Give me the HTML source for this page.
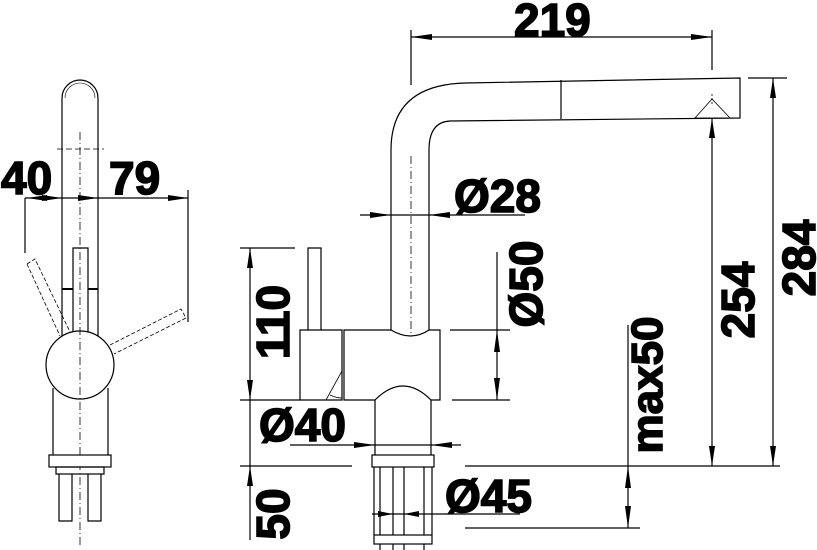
<!DOCTYPE html>
<html><head><meta charset="utf-8"><style>
html,body{margin:0;padding:0;background:#fff;}
svg{display:block}
text{font-family:"Liberation Sans",sans-serif;font-weight:bold;fill:#000;stroke:#000;stroke-width:1.6}
</style></head><body>
<svg width="817" height="550" viewBox="0 0 817 550" xmlns="http://www.w3.org/2000/svg">
<g fill="none" stroke="#000" stroke-width="1.2">
<path d="M62 385 V98 A18 18 0 0 1 98 98 V340"/>
<path d="M65 98 A15 15 0 0 1 95 98" stroke-width="0.6"/>
<line x1="25" y1="198" x2="188" y2="198"/>
<line x1="25" y1="198" x2="25" y2="253"/>
<line x1="188" y1="190" x2="188" y2="322"/>
<path d="M73 332 V248 H88 V332"/>
<line x1="62" y1="289" x2="73" y2="289" stroke-width="2"/>
<line x1="88" y1="289" x2="98" y2="289" stroke-width="2"/>
<path d="M27 264 L35 259 L71 334 M27 264 L60 336" stroke-dasharray="4 2" stroke-width="0.8"/>
<path d="M110 345 L181 309 L186 318 L114 354" stroke-dasharray="4 2" stroke-width="0.8"/>
<path d="M53 388 V455 M108 388 V455"/>
<circle cx="80" cy="365" r="34" fill="#fff"/>
<line x1="80" y1="132" x2="80" y2="545" stroke-dasharray="8 3 1 3" stroke-width="0.8"/>
<line x1="57" y1="149" x2="104" y2="149" stroke-dasharray="6 3" stroke-width="0.8"/>
<rect x="49" y="455" width="62" height="12" fill="#fff"/>
<rect x="56" y="467" width="48" height="7"/>
<path d="M59 474 V521 H72 V474 M88 474 V521 H101 V474"/>

<line x1="411" y1="30" x2="411" y2="85"/>
<path d="M391 330 V150 Q391 85 465 83 L740 78 V118 L450 121 Q429 122 429 150 V330"/>
<line x1="561" y1="80" x2="561" y2="119"/>
<path d="M695 118 L712 99 L730 118 Z" stroke-width="0.8"/>
<line x1="712" y1="94" x2="712" y2="104" stroke-dasharray="2 2" stroke-width="0.8"/>
<line x1="411" y1="156" x2="411" y2="335" stroke-dasharray="8 3 1 3" stroke-width="0.8"/>
<line x1="360" y1="215" x2="525" y2="215"/>
<path d="M308 330 V248 H321 V330"/>
<path d="M300 330 H342 V400 H300 Z"/>
<path d="M342 371 L326 400 M330 395 Q336 398 342 398" stroke-width="0.8"/>
<path d="M344 330 H391 Q411 342 429 330 H440 V400 H431 Q403 372 375 400 H344 Z"/>
<path d="M375 400 V455 M431 400 V455"/>
<rect x="372" y="455" width="62" height="12"/>
<path d="M374 467 V535 M380 467 V535 M393 467 V535 M404 467 V535 M424 467 V535 M432 467 V535"/>
<rect x="374" y="535" width="58" height="9"/>
<path d="M380 544 V550 M393 544 V550 M404 544 V550 M424 544 V550"/>
<line x1="250" y1="248" x2="250" y2="540"/>
<line x1="240" y1="248" x2="295" y2="248"/>
<line x1="240" y1="400" x2="300" y2="400"/>
<line x1="240" y1="466" x2="352" y2="466"/>
<line x1="290" y1="445" x2="461" y2="445"/>
<line x1="497" y1="252" x2="497" y2="400"/>
<line x1="450" y1="330" x2="510" y2="330"/>
<line x1="452" y1="400" x2="510" y2="400"/>
<line x1="372" y1="514" x2="520" y2="514"/>
<line x1="465" y1="466" x2="780" y2="466"/>
<line x1="465" y1="528" x2="640" y2="528"/>
<line x1="628" y1="325" x2="628" y2="528"/>
<line x1="712" y1="118" x2="712" y2="466"/>
<line x1="773" y1="78" x2="773" y2="466"/>
<line x1="748" y1="78" x2="787" y2="78"/>
<line x1="411" y1="37" x2="712" y2="37"/>
<line x1="712" y1="30" x2="712" y2="70"/>
</g>
<g fill="#000">
<path d="M27 198 L47 195 L47 201 Z"/>
<path d="M62 198 L42 195 L42 201 Z"/>
<path d="M98 198 L78 195 L78 201 Z"/>
<path d="M188 198 L168 195 L168 201 Z"/>
<path d="M391 215 L370 212 L370 218 Z"/>
<path d="M429 215 L450 212 L450 218 Z"/>
<path d="M250 248 L247 268 L253 268 Z"/>
<path d="M250 400 L247 380 L253 380 Z"/>
<path d="M250 466 L247 486 L253 486 Z"/>
<path d="M375 445 L354 442 L354 448 Z"/>
<path d="M431 445 L452 442 L452 448 Z"/>
<path d="M497 330 L494 352 L500 352 Z"/>
<path d="M497 400 L494 378 L500 378 Z"/>
<path d="M393 514 L378 511 L378 517 Z"/>
<path d="M404 514 L419 511 L419 517 Z"/>
<path d="M628 466 L625 488 L631 488 Z"/>
<path d="M628 528 L625 506 L631 506 Z"/>
<path d="M712 118 L709 138 L715 138 Z"/>
<path d="M712 466 L709 446 L715 446 Z"/>
<path d="M773 78 L770 98 L776 98 Z"/>
<path d="M773 466 L770 446 L776 446 Z"/>
<path d="M411 37 L432 34 L432 40 Z"/>
<path d="M712 37 L691 34 L691 40 Z"/>
</g>
<g font-size="46">
<text x="1" y="194">40</text>
<text x="109" y="194">79</text>
<text x="514" y="36">219</text>
<text x="454" y="212">Ø28</text>
<text x="259" y="441">Ø40</text>
<text x="445" y="512">Ø45</text>
<text transform="translate(289,322) rotate(-90)" text-anchor="middle">110</text>
<text transform="translate(289,514) rotate(-90)" text-anchor="middle">50</text>
<text transform="translate(542,284) rotate(-90)" text-anchor="middle">Ø50</text>
<text transform="translate(754,300) rotate(-90)" text-anchor="middle">254</text>
<text transform="translate(815,258) rotate(-90)" text-anchor="middle">284</text>
<text transform="translate(662,385) rotate(-90)" text-anchor="middle" font-size="44">max50</text>
</g>
</svg>
</body></html>
